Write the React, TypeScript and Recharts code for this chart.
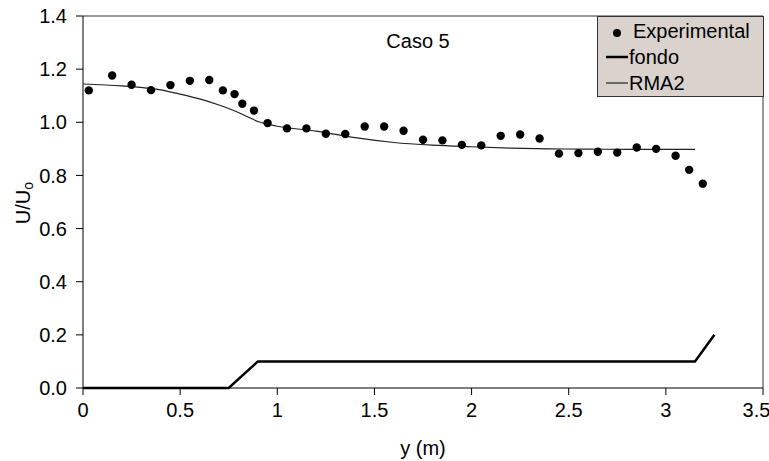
import {
  ComposedChart,
  Line,
  Scatter,
  XAxis,
  YAxis,
  Legend,
  ReferenceLine,
} from "recharts";

// experimental points
const expY = [
  0.03, 0.15, 0.25, 0.35, 0.45, 0.55, 0.65, 0.72, 0.78, 0.82, 0.88, 0.95,
  1.05, 1.15, 1.25, 1.35, 1.45, 1.55, 1.65, 1.75, 1.85, 1.95, 2.05, 2.15,
  2.25, 2.35, 2.45, 2.55, 2.65, 2.75, 2.85, 2.95, 3.05, 3.12, 3.19,
];
const expU = [
  1.12, 1.176, 1.141, 1.121, 1.14, 1.156, 1.159, 1.12, 1.106, 1.07, 1.044,
  0.997, 0.977, 0.977, 0.957, 0.956, 0.984, 0.984, 0.968, 0.934, 0.932,
  0.915, 0.913, 0.949, 0.954, 0.939, 0.882, 0.884, 0.889, 0.886, 0.905, 0.9,
  0.874, 0.821, 0.769,
];

// RMA2 model
const rmaY = [
  0, 0.2, 0.4, 0.5, 0.6, 0.7, 0.75, 0.8, 0.85, 0.9, 0.95, 1.0, 1.2, 1.4, 1.6,
  1.8, 2.0, 2.2, 2.4, 2.6, 2.8, 3.0, 3.15,
];
const rmaU = [
  1.144, 1.137, 1.122, 1.106, 1.088, 1.065, 1.052, 1.037, 1.02, 1.003, 0.993,
  0.985, 0.967, 0.942, 0.924, 0.914, 0.908, 0.903, 0.9, 0.899, 0.898, 0.898,
  0.898,
];

// fondo (bed profile)
const fondoY = [0, 0.75, 0.9, 3.15, 3.25];
const fondoU = [0, 0, 0.1, 0.1, 0.2];

const xTicks = [0, 0.5, 1, 1.5, 2, 2.5, 3, 3.5];
const yTicks = [0, 0.2, 0.4, 0.6, 0.8, 1.0, 1.2, 1.4];

const font = "'Liberation Sans', Arial, sans-serif";

const expData = expY.map((y, i) => ({ y, u: expU[i] }));
const rmaData = rmaY.map((y, i) => ({ y, u: rmaU[i] }));
const fondoData = fondoY.map((y, i) => ({ y, u: fondoU[i] }));

function LegendBox() {
  return (
    <svg width={168} height={82} style={{ display: "block" }}>
      <rect x={0.5} y={0.5} width={166} height={80} fill="#d9d2cd" stroke="#333" />
      <circle cx={20} cy={17} r={4} fill="#000" />
      <text x={36} y={22} fontSize={20} fontFamily={font} fill="#000">
        Experimental
      </text>
      <line x1={9} x2={31} y1={41} y2={41} stroke="#000" strokeWidth={2.5} />
      <text x={32} y={48} fontSize={20} fontFamily={font} fill="#000">
        fondo
      </text>
      <line x1={9} x2={31} y1={67} y2={67} stroke="#000" strokeWidth={1} />
      <text x={32} y={74} fontSize={20} fontFamily={font} fill="#000">
        RMA2
      </text>
    </svg>
  );
}

function YTitle() {
  return (
    <text
      x={23}
      y={203}
      transform="rotate(-90, 23, 203)"
      textAnchor="middle"
      dominantBaseline="central"
      fontSize={20}
      fontFamily={font}
      fill="#000"
    >
      U/U
      <tspan fontSize={14} dy={5}>
        o
      </tspan>
    </text>
  );
}

export default function App() {
  return (
    <div style={{ position: "absolute", left: 0, top: 0, width: 769, height: 461, background: "#fff" }}>
      <ComposedChart
        width={769}
        height={461}
        margin={{ top: 16, right: 6, left: 0, bottom: 0 }}
      >
        <XAxis
          type="number"
          dataKey="y"
          domain={[0, 3.5]}
          ticks={xTicks}
          tickFormatter={(v) => String(v)}
          height={73}
          tickSize={7}
          tickMargin={8}
          stroke="#000"
          tick={{ fill: "#000", fontSize: 20, fontFamily: font }}
          label={{
            value: "y (m)",
            position: "insideBottom",
            offset: 6,
            fill: "#000",
            fontSize: 20,
            fontFamily: font,
          }}
        />
        <YAxis
          type="number"
          dataKey="u"
          domain={[0, 1.4]}
          ticks={yTicks}
          tickFormatter={(v) => Number(v).toFixed(1)}
          width={83}
          tickSize={7}
          tickMargin={9}
          stroke="#000"
          tick={{ fill: "#000", fontSize: 20, fontFamily: font }}
          label={{ content: () => <YTitle /> }}
        />
        <ReferenceLine y={1.4} stroke="#333" />
        <ReferenceLine x={3.5} stroke="#333" />
        <Line
          data={fondoData}
          dataKey="u"
          type="linear"
          stroke="#000"
          strokeWidth={2.5}
          dot={false}
          isAnimationActive={false}
          name="fondo"
        />
        <Line
          data={rmaData}
          dataKey="u"
          type="monotone"
          stroke="#222"
          strokeWidth={1.2}
          dot={false}
          isAnimationActive={false}
          name="RMA2"
        />
        <Scatter
          data={expData}
          dataKey="u"
          fill="#000"
          shape={(p: any) => <circle cx={p.cx} cy={p.cy} r={4.2} fill="#000" />}
          isAnimationActive={false}
          name="Experimental"
        />
        <Legend
          layout="horizontal"
          align="center"
          verticalAlign="middle"
          wrapperStyle={{ top: 16, left: 597, right: "auto", bottom: "auto", width: 168, height: 82 }}
          content={() => <LegendBox />}
        />
      </ComposedChart>
      <svg
        width={769}
        height={461}
        style={{ position: "absolute", left: 0, top: 0, pointerEvents: "none" }}
      >
        <text x={418} y={48} textAnchor="middle" fontSize={20} fontFamily={font} fill="#000">
          Caso 5
        </text>
      </svg>
    </div>
  );
}
